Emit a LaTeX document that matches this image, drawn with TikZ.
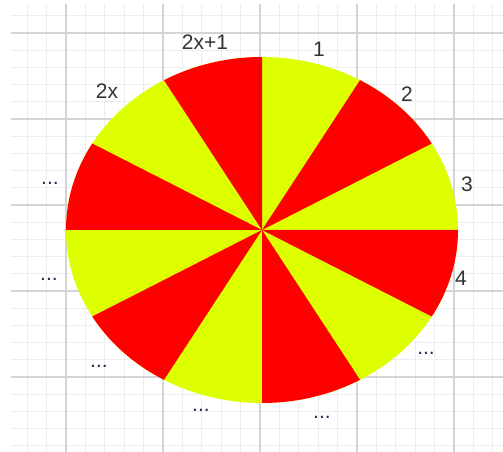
\documentclass[tikz,border=0pt]{standalone}
\usepackage{fontspec}
\setmainfont{Liberation Sans}
\definecolor{sectred}{HTML}{FF0000}
\definecolor{sectyel}{HTML}{DDFF00}
\definecolor{gridminor}{HTML}{EDEDED}
\definecolor{gridmajor}{HTML}{D4D4D4}
\definecolor{labtext}{HTML}{333333}

\begin{document}
\begin{tikzpicture}[
  x=1pt, y=1pt,
  minorline/.style={draw=gridminor, line width=1pt},
  majorline/.style={draw=gridmajor, line width=1.4pt},
  lab/.style={text=labtext, anchor=base, inner sep=0pt,
              font=\fontsize{21}{25}\selectfont},
  dots/.style={lab, text=labtext!85!blue},
]
\useasboundingbox (-262,-222) rectangle (241,230);
% ---- background grid (5 minor steps per major step) ----
\foreach \i [evaluate=\i as \gx using -2+19.4*\i] in {-12,...,12}
  \draw[minorline] (\gx,-222) -- (\gx,226);
\foreach \j [evaluate=\j as \gy using 25+17.2*\j] in {-14,...,11}
  \draw[minorline] (-251,\gy) -- (241,\gy);
\foreach \gx in {-196,-99,-2,95,192}
  \draw[majorline] (\gx,-222) -- (\gx,226);
\foreach \gy in {-147,-61,25,111,197}
  \draw[majorline] (-251,\gy) -- (241,\gy);
% ---- wheel: 12 sectors, yellow base, red every second one ----
\fill[sectyel] (0,0) ellipse [x radius=196, y radius=173];
\foreach \k in {1,3,...,11}
  \fill[sectred] (0,0) -- (\k*30:196 and 173)
    arc[start angle=\k*30, delta angle=30, x radius=196, y radius=173] -- cycle;
% ---- sector labels ----
\node[lab] (l2x1) at (-57,180) {2x+1};
\node[lab] (l1)   at (57,173)  {1};
\node[lab] (l2)   at (145,128) {2};
\node[lab] (l3)   at (205,38)  {3};
\node[lab] (l4)   at (199,-55) {4};
\node[lab] (l2x)  at (-155,131) {2x};
\node[dots] (da) at (-212,45)   {...};
\node[dots] (db) at (-213,-50)  {...};
\node[dots] (dc) at (-163,-137) {...};
\node[dots] (dd) at (-61,-181)  {...};
\node[dots] (de) at (60,-188)   {...};
\node[dots] (df) at (164,-124)  {...};
\end{tikzpicture}
\end{document}
